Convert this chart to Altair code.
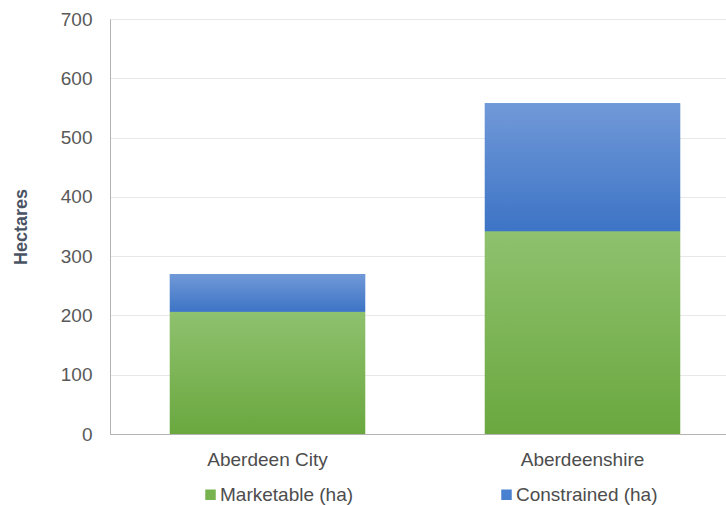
import altair as alt
import pandas as pd

regions = ["Aberdeen City", "Aberdeenshire"]
marketable = [206, 342]
constrained = [64, 216]
series = ["Marketable (ha)", "Constrained (ha)"]
y_ticks = [0, 100, 200, 300, 400, 500, 600, 700]

rows = []
for r, m, c in zip(regions, marketable, constrained):
    rows.append({"region": r, "series": series[0], "start": 0, "end": m})
    rows.append({"region": r, "series": series[1], "start": m, "end": m + c})
df = pd.DataFrame(rows)

green_grad = {"gradient": "linear", "x1": 0, "y1": 0, "x2": 0, "y2": 1,
              "stops": [{"offset": 0, "color": "#8fc16e"}, {"offset": 1, "color": "#6aa83f"}]}
blue_grad = {"gradient": "linear", "x1": 0, "y1": 0, "x2": 0, "y2": 1,
             "stops": [{"offset": 0, "color": "#7199d8"}, {"offset": 1, "color": "#3d74c5"}]}

x_enc = alt.X("region:N", sort=regions, title=None,
              scale=alt.Scale(range=[0, 630], paddingInner=0.38, paddingOuter=0.19),
              axis=alt.Axis(labelAngle=0, labelFontSize=19, labelColor="#4d4d4d",
                            labelFont="Liberation Sans", labelPadding=16, ticks=False,
                            domainColor="#b3b3b3", grid=False))
y_enc = alt.Y("start:Q", title="Hectares",
              scale=alt.Scale(domain=[0, 700], nice=False),
              axis=alt.Axis(values=y_ticks, labelFontSize=19, labelColor="#595959",
                            labelFont="Liberation Sans", labelPadding=18, ticks=False,
                            domainColor="#b3b3b3", gridColor="#e8e8e8",
                            titleFontSize=18, titleFont="Liberation Sans", titleFontWeight="bold",
                            titleColor="#4a5363", titlePadding=30))

base = alt.Chart(df).mark_bar().encode(
    x=x_enc, y=y_enc, y2="end:Q",
    color=alt.Color("series:N", sort=series,
                    scale=alt.Scale(domain=series, range=["#77b34f", "#4a80d0"]),
                    legend=alt.Legend(title=None, orient="none", direction="horizontal",
                                      legendX=91, legendY=466, symbolType="square",
                                      symbolSize=110, symbolStrokeWidth=0, labelFontSize=19,
                                      labelFont="Liberation Sans", labelColor="#4d4d4d",
                                      columnPadding=143, labelOffset=0))
)
green = alt.Chart(df).transform_filter(alt.datum.series == series[0]).mark_bar(color=green_grad).encode(
    x=alt.X("region:N", sort=regions), y="start:Q", y2="end:Q")
blue = alt.Chart(df).transform_filter(alt.datum.series == series[1]).mark_bar(color=blue_grad).encode(
    x=alt.X("region:N", sort=regions), y="start:Q", y2="end:Q")

chart = alt.layer(base, green, blue).properties(
    width=616, height=415,
    autosize=alt.AutoSizeParams(type="none"),
    padding={"left": 110, "top": 19, "right": 0, "bottom": 71},
    background="white",
).configure_view(stroke="#b3b3b3")

chart.save("out.html", embed_options={"renderer": "svg", "actions": False})
